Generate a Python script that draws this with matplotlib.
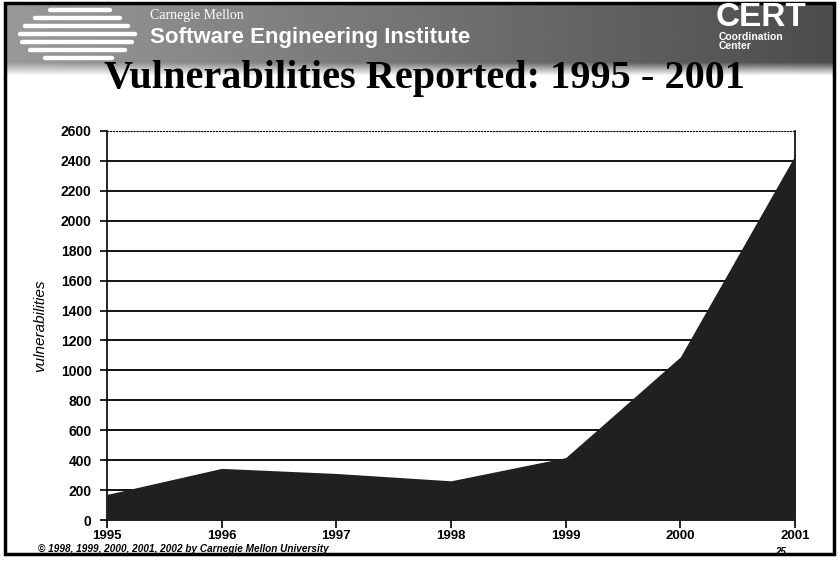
import matplotlib
matplotlib.use("Agg")
from matplotlib import pyplot as plt
from matplotlib.patches import Rectangle
import numpy as np

# Vulnerabilities reported to CERT/CC
years = [1995, 1996, 1997, 1998, 1999, 2000, 2001]
vulns = [171, 345, 311, 262, 417, 1090, 2437]
y_ticks = list(range(0, 2601, 200))

plt.rcParams['font.family'] = ['Liberation Sans', 'DejaVu Sans']

fig = plt.figure(figsize=(8.38, 5.62), dpi=100)
fig.patch.set_facecolor('white')

W, H = 838, 562

def fx(px):
    return px / W

def fy(py):
    return 1 - py / H

# Header band with gradient (decoration)
bg = fig.add_axes([0, 0, 1, 1], zorder=0)
bg.set_xlim(0, W)
bg.set_ylim(H, 0)
bg.axis('off')
nx, ny = 200, 80
gx = np.linspace(0, 1, nx)
gy = np.linspace(0, 1, ny)
horiz = 0.60 - 0.30 * gx
img = np.tile(horiz, (ny, 1))
fade = np.clip((gy * 80 - 62) / 14, 0, 1)[:, None]
img = img * (1 - fade) + 1.0 * fade
bg.imshow(img, cmap='gray', vmin=0, vmax=1, extent=[6, 834, 80, 3],
          aspect='auto', interpolation='bilinear')

# Logo streaks
streaks = [(50, 110, 10), (35, 120, 18), (25, 128, 26), (20, 135, 34),
           (22, 132, 42), (30, 125, 50), (45, 112, 58)]
for x0, x1, yy in streaks:
    bg.plot([x0, x1], [yy, yy], color='white', lw=3.2, solid_capstyle='round')

bg.text(150, 15, 'Carnegie Mellon', color='white', fontsize=10,
        family=['Liberation Serif'], va='center', ha='left')
bg.text(150, 37, 'Software Engineering Institute', color='white', fontsize=16,
        fontweight='bold', va='center', ha='left')
bg.text(716, 17, 'CERT', color='white', fontsize=24, fontweight='bold',
        va='center', ha='left')
bg.text(719, 37, 'Coordination', color='white', fontsize=7.5, fontweight='bold',
        va='center', ha='left')
bg.text(719, 46, 'Center', color='white', fontsize=7.5, fontweight='bold',
        va='center', ha='left')

bg.text(424, 88, 'Vulnerabilities Reported: 1995 - 2001', color='black',
        fontsize=29, fontweight='bold', family=['Liberation Serif'],
        va='baseline', ha='center')

bg.text(38, 549, '\u00a9 1998, 1999, 2000, 2001, 2002 by Carnegie Mellon University',
        fontsize=7.2, fontweight='bold', style='italic', va='center', ha='left')
bg.text(775, 552, '25', fontsize=7, fontweight='bold', style='italic',
        va='center', ha='left')

bg.add_patch(Rectangle((5, 3), 829, 551, fill=False, edgecolor='black', lw=2.5))

# Chart
ax = fig.add_axes([fx(107), fy(520), fx(795) - fx(107), fy(131) - fy(520)], zorder=2)
ax.fill_between(years, vulns, 0, color='#202020', lw=0, zorder=3)
ax.set_xlim(1995, 2001)
ax.set_ylim(0, 2600)
ax.set_yticks(y_ticks)
ax.set_xticks(years)
for v in y_ticks[1:-1]:
    ax.axhline(v, color='black', lw=1.3, zorder=2)
ax.tick_params(axis='y', direction='out', length=5, width=1.2, labelsize=10, pad=6)
ax.tick_params(axis='x', direction='out', length=6, width=1.2, labelsize=9.5, pad=1)
for lab in ax.get_yticklabels() + ax.get_xticklabels():
    lab.set_fontweight('bold')
ax.spines['top'].set_linestyle(':')
ax.spines['top'].set_linewidth(0.8)
ax.spines['right'].set_linewidth(1.2)
ax.spines['left'].set_linewidth(1.2)
ax.spines['bottom'].set_linewidth(1.2)
ax.set_ylabel('vulnerabilities', fontsize=11, style='italic', labelpad=10)
ax.set_facecolor('none')

plt.savefig('out.png', dpi=100)
